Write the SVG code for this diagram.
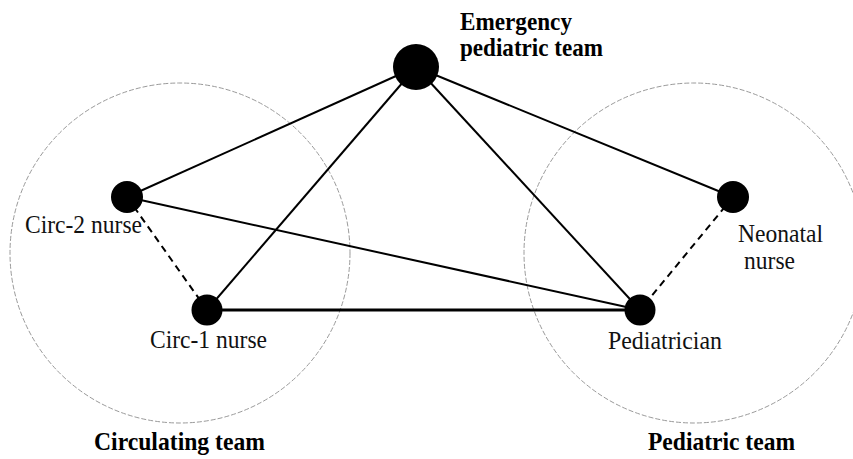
<svg xmlns="http://www.w3.org/2000/svg" width="853" height="459" viewBox="0 0 853 459">
  <style>
    .team { fill: none; stroke: #9a9a9a; stroke-width: 1; stroke-dasharray: 5 2; }
    .link { stroke: #000; stroke-width: 2; fill: none; }
    .strong { stroke-width: 3; }
    .dashed { stroke-dasharray: 7 5; }
    .node { fill: #000; }
    .label { font-family: "Liberation Serif", "Times New Roman", serif; font-size: 25px; fill: #111; }
    .title { font-family: "Liberation Serif", "Times New Roman", serif; font-size: 25px; font-weight: bold; fill: #000; }
  </style>

  <!-- team boundaries -->
  <g id="teams">
    <circle class="team" cx="180" cy="253" r="170"/>
    <circle class="team" cx="694" cy="253" r="170"/>
  </g>

  <!-- connectors -->
  <g id="connectors">
    <line class="link" x1="416" y1="67" x2="127" y2="197"/>
    <line class="link" x1="416" y1="67" x2="207" y2="310"/>
    <line class="link" x1="416" y1="67" x2="640" y2="310"/>
    <line class="link" x1="416" y1="67" x2="733" y2="197"/>
    <line class="link" x1="127" y1="197" x2="640" y2="310"/>
    <line class="link strong" x1="207" y1="310" x2="640" y2="310"/>
    <line class="link dashed" x1="127" y1="197" x2="207" y2="310"/>
    <line class="link dashed" x1="733" y1="197" x2="640" y2="310"/>
  </g>

  <g id="emergency-pediatric-team">
    <circle class="node" cx="416" cy="67" r="23"/>
    <text class="title" x="460" y="30" textLength="112" lengthAdjust="spacingAndGlyphs">Emergency</text>
    <text class="title" x="460" y="56" textLength="143" lengthAdjust="spacingAndGlyphs">pediatric team</text>
  </g>

  <g id="circ-2-nurse">
    <circle class="node" cx="127" cy="197" r="16"/>
    <text class="label" x="25" y="233" textLength="117" lengthAdjust="spacingAndGlyphs">Circ-2 nurse</text>
  </g>

  <g id="circ-1-nurse">
    <circle class="node" cx="207" cy="310" r="15.5"/>
    <text class="label" x="150" y="348" textLength="117" lengthAdjust="spacingAndGlyphs">Circ-1 nurse</text>
  </g>

  <g id="pediatrician">
    <circle class="node" cx="640" cy="310" r="15.5"/>
    <text class="label" x="608" y="349" textLength="114" lengthAdjust="spacingAndGlyphs">Pediatrician</text>
  </g>

  <g id="neonatal-nurse">
    <circle class="node" cx="733" cy="197" r="16"/>
    <text class="label" x="738" y="242" textLength="85" lengthAdjust="spacingAndGlyphs">Neonatal</text>
    <text class="label" x="744" y="269" textLength="51" lengthAdjust="spacingAndGlyphs">nurse</text>
  </g>

  <g id="circulating-team">
    <text class="title" x="94" y="450" textLength="171" lengthAdjust="spacingAndGlyphs">Circulating team</text>
  </g>

  <g id="pediatric-team">
    <text class="title" x="648" y="450" textLength="147" lengthAdjust="spacingAndGlyphs">Pediatric team</text>
  </g>
</svg>
